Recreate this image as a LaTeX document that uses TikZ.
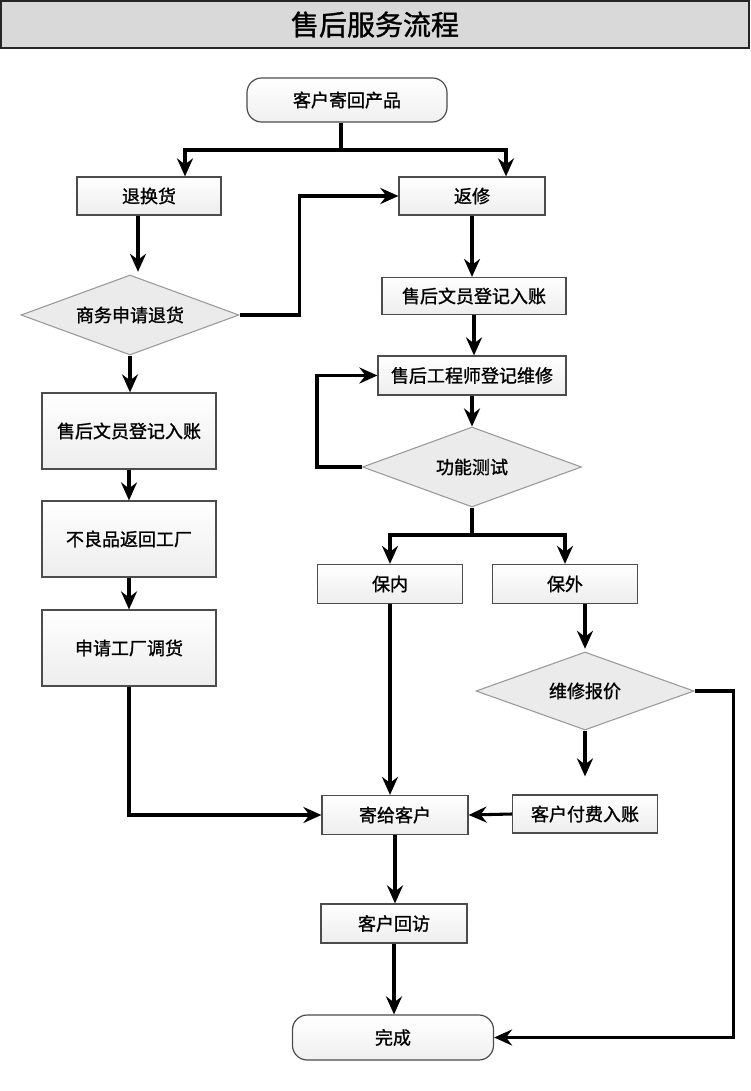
\documentclass[tikz,border=0pt]{standalone}
\usepackage{fontspec}
\newfontfamily\cjk[FakeBold=1.2]{Noto Sans CJK SC}
\usetikzlibrary{shapes.geometric,arrows.meta}
\begin{document}
\begin{tikzpicture}[x=0.75pt,y=-0.75pt,
  every node/.style={font=\cjk\fontsize{13.5pt}{16pt}\selectfont, text=black, inner sep=0pt},
  box/.style={draw=black!70, line width=0.9pt, top color=white, bottom color=black!7, rectangle},
  term/.style={draw=black!70, line width=0.9pt, top color=white, bottom color=black!6, rectangle, rounded corners=11pt},
  dia/.style={draw=black!40, line width=0.8pt, fill=black!8, diamond, shape aspect=2.7},
  ln/.style={line width=2.3pt, draw=black},
  arr/.style={ln, -{Stealth[length=13.5pt,width=12pt,inset=4.5pt]}},
  titlebox/.style={draw=black!85, line width=1.1pt, fill=black!15, rectangle, font=\cjk\fontsize{21pt}{24pt}\selectfont}
]
\useasboundingbox (0,0) rectangle (750,1091);

\node[titlebox, minimum width=561pt, minimum height=35.5pt] (title) at (375,24.5) {售后服务流程};

\node[term, minimum width=150pt, minimum height=33pt] (start) at (347,100) {客户寄回产品};
\node[box, minimum width=108pt, minimum height=28.5pt] (thh) at (149,196) {退换货};
\node[box, minimum width=109.5pt, minimum height=28.5pt] (fx) at (472,196) {返修};
\node[dia, minimum width=163.5pt, minimum height=60pt] (swsq) at (130,315) {商务申请退货};
\node[box, minimum width=130.5pt, minimum height=57pt] (L1) at (129,431) {售后文员登记入账};
\node[box, minimum width=130.5pt, minimum height=57pt] (L2) at (129,539) {不良品返回工厂};
\node[box, minimum width=130.5pt, minimum height=57pt] (L3) at (129,648) {申请工厂调货};
\node[box, minimum width=138pt, minimum height=27.75pt] (R1) at (474,296) {售后文员登记入账};
\node[box, minimum width=141pt, minimum height=29.25pt] (R2) at (472,375.5) {售后工程师登记维修};
\node[dia, minimum width=164.25pt, minimum height=60pt] (cs) at (472,467) {功能测试};
\node[box, minimum width=108.75pt, minimum height=29.25pt] (bn) at (390,584) {保内};
\node[box, minimum width=108.75pt, minimum height=29.25pt] (bw) at (565,584) {保外};
\node[dia, minimum width=163.5pt, minimum height=58.5pt] (bj) at (585,691) {维修报价};
\node[box, minimum width=108.75pt, minimum height=28.5pt] (fk) at (585,814) {客户付费入账};
\node[box, minimum width=109.5pt, minimum height=29.25pt] (jg) at (395,815) {寄给客户};
\node[box, minimum width=109.5pt, minimum height=29.25pt] (hf) at (394,923.5) {客户回访};
\node[term, minimum width=150.75pt, minimum height=33.75pt] (wc) at (393,1037.5) {完成};

\coordinate (b1) at (341,150);
\coordinate (xa) at (185,0);
\coordinate (xb) at (506,0);
\coordinate (xc) at (138,0);
\coordinate (b2) at (472,535);

\draw[ln] (start.south -| b1) -- (b1);
\draw[arr] (b1) -| (thh.north -| xa);
\draw[arr] (b1) -| (fx.north -| xb);
\draw[arr, shorten >=2pt] (thh.south -| xc) -- (swsq.north -| xc);
\draw[arr] (swsq.east) -- ++(60,0) |- (fx.west);
\draw[arr] (fx.south) -- (fx.south |- R1.north);
\draw[arr] (R1.south) -- (R1.south |- R2.north);
\draw[arr] (R2.south) -- (cs.north);
\draw[arr] (cs.west) -- ++(-45,0) |- (R2.west);
\draw[ln] (cs.south) -- (b2);
\draw[arr] (b2) -| (bn.north);
\draw[arr] (b2) -| (bw.north);
\draw[arr, shorten >=2pt] (bw.south -| bj.north) -- (bj.north);
\draw[arr, shorten >=13.5pt] (bj.south) -- (fk.north);
\draw[arr] (fk.west) -- (jg.east);
\draw[arr] (bj.east) -- ++(39,0) |- (wc.east);
\draw[arr] (bn.south) -- (bn.south |- jg.north);
\draw[arr] (jg.south) -- (jg.south |- hf.north);
\draw[arr] (hf.south) -- (hf.south |- wc.north);
\draw[arr] (swsq.south) -- (swsq.south |- L1.north);
\draw[arr] (L1.south) -- (L2.north);
\draw[arr] (L2.south) -- (L3.north);
\draw[arr] (L3.south) |- (jg.west);
\end{tikzpicture}
\end{document}
